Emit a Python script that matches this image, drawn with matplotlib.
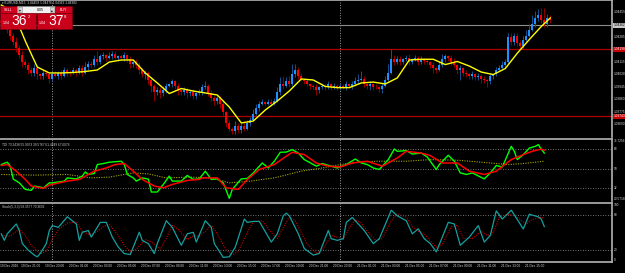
import numpy as np
import pandas as pd
import matplotlib
matplotlib.use('Agg')
import matplotlib.pyplot as plt
from matplotlib.patches import Rectangle

plt.rcParams['font.family'] = ['Liberation Sans', 'DejaVu Sans']

W, H = 625, 273

# EURUSD M15 candles, closes in pips above 1.0360
base = 1.0360
first_open = 80
closes = [78, 76, 73, 69, 65, 61, 56, 51, 49, 46,
          44, 47, 43, 42, 44, 43, 40, 43, 42, 44,
          42, 46, 44, 44, 46, 44, 47, 44, 48, 50,
          49, 53, 51, 55, 56, 54, 55, 57, 54, 55,
          54, 56, 53, 50, 51, 49, 46, 43, 44, 39,
          35, 31, 32, 30, 32, 35, 36, 38, 35, 32,
          31, 32, 30, 31, 28, 30, 31, 34, 35, 30,
          27, 25, 27, 23, 17, 10, 6, 4, 8, 5,
          8, 6, 10, 12, 16, 20, 23, 24, 23, 24,
          23, 25, 31, 36, 35, 38, 36, 43, 46, 42,
          39, 38, 36, 35, 34, 32, 34, 35, 34, 36,
          34, 35, 34, 35, 34, 36, 35, 36, 38, 39,
          40, 36, 35, 36, 34, 34, 33, 35, 39, 44,
          53, 51, 53, 51, 53, 54, 51, 53, 54, 51,
          53, 52, 51, 49, 47, 46, 49, 53, 55, 54,
          51, 49, 46, 47, 44, 43, 42, 43, 41, 42,
          40, 39, 38, 42, 43, 46, 47, 49, 51, 68,
          65, 69, 64, 62, 66, 69, 73, 77, 81, 83,
          80, 77, 81, 80]
up_wick = [2, 2, 3, 2, 2, 3, 2, 3, 2, 2,
           2, 3, 2, 1, 2, 2, 1, 2, 2, 1,
           2, 2, 1, 2, 2, 1, 2, 2, 3, 2,
           2, 3, 6, 2, 2, 1, 3, 2, 2, 1,
           2, 2, 1, 2, 1, 2, 2, 1, 2, 1,
           2, 1, 2, 2, 3, 2, 1, 2, 1, 2,
           1, 2, 2, 1, 2, 1, 2, 2, 3, 1,
           2, 1, 2, 1, 2, 1, 2, 1, 3, 2,
           2, 3, 2, 2, 3, 3, 2, 2, 1, 2,
           2, 2, 3, 5, 6, 3, 4, 7, 4, 2,
           2, 1, 2, 1, 1, 2, 1, 2, 1, 2,
           1, 2, 1, 2, 1, 2, 1, 2, 3, 4,
           5, 2, 1, 2, 1, 2, 1, 2, 3, 6,
           7, 3, 2, 2, 1, 2, 3, 1, 2, 1,
           2, 1, 2, 1, 2, 1, 3, 4, 2, 1,
           2, 3, 1, 2, 1, 2, 1, 2, 1, 2,
           1, 2, 1, 2, 1, 2, 2, 3, 2, 3,
           3, 2, 2, 2, 3, 4, 4, 6, 5, 4,
           5, 8, 3, 2]
dn_wick = [2, 1, 2, 3, 2, 3, 2, 3, 2, 3,
           2, 2, 3, 2, 2, 1, 3, 2, 1, 2,
           2, 1, 2, 2, 1, 2, 1, 2, 1, 2,
           2, 1, 2, 1, 2, 2, 1, 2, 1, 2,
           1, 2, 2, 3, 2, 2, 3, 2, 3, 3,
           4, 6, 2, 3, 2, 2, 1, 2, 2, 3,
           2, 2, 3, 2, 2, 2, 1, 2, 1, 2,
           2, 3, 2, 3, 2, 3, 2, 2, 2, 2,
           2, 2, 1, 2, 1, 1, 2, 1, 2, 1,
           2, 1, 1, 2, 2, 1, 2, 1, 2, 2,
           1, 2, 1, 2, 2, 3, 2, 1, 2, 1,
           2, 1, 2, 2, 1, 2, 1, 2, 1, 2,
           1, 2, 2, 3, 2, 1, 2, 3, 1, 1,
           1, 2, 1, 2, 1, 1, 2, 1, 1, 2,
           1, 2, 1, 2, 3, 2, 1, 1, 2, 2,
           2, 1, 3, 7, 2, 2, 2, 2, 2, 2,
           3, 2, 4, 2, 2, 1, 1, 1, 1, 1,
           2, 2, 2, 2, 1, 1, 1, 1, 2, 2,
           2, 2, 2, 2]

# moving average (yellow), read every 4 bars
ma_idx = list(range(0, 184, 4)) + [183]
ma_pips = [90.0, 85.2, 65.5, 47.8, 43.8, 43.8, 44.1, 44.8, 45.8, 51.2,
           52.6, 52.6, 43.8, 37.0, 29.8, 33.2, 31.5, 30.2, 28.8, 20.6,
           9.8, 11.1, 18.6, 24.7, 31.5, 39.7, 39.0, 34.6, 33.8, 33.8,
           37.0, 37.6, 36.3, 40.4, 52.6, 53.1, 53.1, 49.5, 51.6, 48.5,
           44.4, 42.7, 46.8, 57.2, 66.5, 75.4, 81.2]

# TDI
tdi_g_idx = [0, 2, 3, 4, 6, 8, 10, 11, 13, 14, 16, 17, 21, 22, 25, 27, 28, 29, 31, 32,
             34, 36, 40, 41, 42, 44, 45, 47, 49, 50, 52, 54, 56, 57, 60, 62, 64, 66, 68, 70,
             72, 74, 76, 77, 80, 82, 84, 87, 89, 91, 93, 95, 97, 99, 101, 105, 107, 110, 112, 115,
             118, 120, 122, 124, 126, 129, 131, 132, 135, 137, 140, 142, 145, 146, 149, 151, 153, 155, 157, 161,
             163, 165, 167, 170, 171, 172, 174, 176, 178, 179, 180, 181]
tdi_green = [53.6, 55.7, 52.1, 40.4, 37.0, 31.1, 30.2, 34.1, 33.2, 32.3, 37.0, 37.0, 38.6, 41.5, 40.6, 43.1, 46.9, 44.6, 45.5, 53.6,
             54.5, 55.7, 56.6, 53.6, 44.6, 41.5, 38.6, 41.5, 40.4, 28.7, 28.7, 35.6, 43.1, 38.6, 38.6, 43.7, 40.1, 40.6, 47.6, 40.1,
             40.6, 37.0, 23.0, 31.1, 40.6, 41.0, 46.0, 55.0, 50.5, 56.6, 64.7, 64.9, 67.1, 64.0, 58.1, 52.1, 54.5, 52.1, 50.5, 53.6,
             58.6, 55.0, 53.6, 50.5, 49.1, 58.1, 67.6, 65.6, 66.2, 63.1, 64.0, 60.4, 49.1, 53.6, 62.0, 56.6, 46.0, 44.6, 46.0, 40.6,
             46.0, 52.7, 51.4, 70.1, 65.6, 58.1, 62.6, 68.5, 70.1, 71.6, 67.6, 64.0]
tdi_r_idx = [0, 2, 5, 8, 10, 14, 16, 22, 26, 31, 35, 38, 41, 44, 47, 51, 54, 57, 62, 66,
             67, 72, 75, 79, 82, 86, 91, 95, 97, 101, 105, 109, 113, 117, 122, 127, 132, 135, 140, 143,
             147, 152, 156, 161, 165, 170, 174, 177, 180, 181]
tdi_red = [52.7, 53.6, 47.6, 40.1, 34.1, 32.0, 35.0, 38.6, 40.1, 47.6, 50.5, 53.6, 54.5, 47.6, 40.1, 34.1, 32.5, 35.6, 39.2, 40.1,
           41.5, 41.5, 32.5, 31.1, 40.1, 49.1, 53.6, 61.1, 64.7, 62.6, 55.0, 52.1, 51.4, 55.0, 56.6, 52.1, 59.5, 65.6, 64.0, 61.7,
           55.0, 55.0, 47.6, 44.6, 47.6, 58.1, 62.6, 65.6, 67.6, 66.5]
tdi_y_idx = [0, 11, 22, 30, 36, 44, 49, 55, 63, 70, 76, 83, 91, 100, 107, 113, 119, 125, 135, 143,
             152, 160, 169, 174, 181]
tdi_base = [44.6, 44.0, 44.6, 41.5, 42.2, 46.0, 45.1, 41.5, 42.2, 41.5, 37.0, 38.6, 41.5, 47.6, 50.5, 53.6, 55.7, 56.6, 56.6, 58.1,
            57.5, 55.7, 53.6, 54.5, 56.6]
tdi_levels = [68, 50, 32]

# Stochastic
st_idx = [0, 1, 2, 5, 6, 7, 9, 11, 12, 13, 15, 16, 17, 19, 20, 22, 25, 26, 27, 29,
          30, 33, 35, 37, 39, 41, 43, 46, 47, 49, 51, 52, 55, 57, 60, 62, 64, 65, 68, 70,
          71, 74, 76, 78, 81, 82, 84, 86, 90, 92, 94, 95, 96, 99, 101, 104, 106, 109, 110, 112,
          114, 115, 117, 119, 121, 124, 126, 130, 132, 135, 137, 139, 141, 143, 145, 149, 151, 153, 156, 159,
          161, 163, 165, 167, 170, 174, 176, 179, 180, 181]
st_main = [47.8, 36.7, 47.8, 64.5, 53.3, 31.2, 20.0, 11.7, 8.8, 14.5, 31.2, 53.3, 61.7, 58.8, 64.5, 76.7, 64.5, 36.7, 50.5, 53.3,
           42.2, 67.2, 67.2, 42.2, 25.3, 14.3, 12.7, 50.5, 36.5, 31.2, 14.3, 31.2, 70.0, 58.8, 28.3, 47.8, 50.3, 33.8, 70.0, 58.8,
           31.2, 7.8, 8.8, 25.3, 72.8, 67.2, 68.8, 68.8, 33.8, 47.8, 78.3, 82.8, 78.3, 47.8, 22.8, 11.7, 14.5, 53.3, 39.5, 36.7,
           39.5, 67.2, 75.5, 64.5, 53.3, 31.2, 39.5, 87.8, 78.3, 70.0, 47.8, 56.2, 39.5, 31.2, 17.2, 67.2, 64.5, 28.3, 42.2, 61.7,
           33.8, 45.0, 86.7, 72.8, 87.8, 56.0, 81.0, 76.5, 72.8, 60.0]
sig_idx = [0, 3, 6, 8, 10, 13, 15, 17, 19, 22, 25, 27, 29, 31, 34, 36, 39, 41, 43, 45,
           48, 50, 53, 55, 57, 59, 62, 64, 66, 68, 70, 72, 75, 77, 79, 82, 84, 87, 90, 92,
           94, 96, 98, 100, 102, 105, 107, 110, 112, 114, 116, 118, 120, 122, 125, 127, 130, 132, 135, 137,
           139, 141, 143, 145, 147, 150, 152, 154, 157, 160, 162, 164, 166, 168, 170, 172, 175, 177, 180, 181]
st_signal = [45, 44, 56, 45, 28, 14, 18, 38, 55, 66, 68, 52, 47, 48, 60, 64, 45, 28, 18, 22,
             38, 34, 22, 40, 62, 55, 38, 44, 44, 52, 62, 48, 20, 12, 18, 50, 68, 70, 50, 40,
             58, 76, 70, 50, 30, 15, 20, 45, 42, 38, 58, 72, 66, 52, 36, 40, 70, 82, 76, 60,
             52, 48, 36, 25, 30, 60, 62, 40, 40, 52, 45, 50, 76, 80, 80, 76, 64, 72, 76, 74]
st_levels = [80, 20]

price_ticks = [1.04455, 1.04285, 1.04115, 1.04030, 1.03945, 1.03860, 1.03775, 1.03690]
bid, ask = 1.04362, 1.04378
hlines = [1.04198, 1.03743]

times = pd.date_range('2016-12-19 19:45', periods=len(closes), freq='15min')
time_labels = ['19 Dec 21:00', '19 Dec 23:00', '20 Dec 01:00', '20 Dec 03:00', '20 Dec 05:00',
               '20 Dec 07:00', '20 Dec 09:00', '20 Dec 11:00', '20 Dec 13:00', '20 Dec 15:00',
               '20 Dec 17:00', '20 Dec 19:00', '20 Dec 21:00', '20 Dec 23:00', '21 Dec 01:00',
               '21 Dec 03:00', '21 Dec 05:00', '21 Dec 07:00', '21 Dec 09:00', '21 Dec 11:00',
               '21 Dec 13:00', '21 Dec 15:00']

FS = 2.3          # scale labels are tiny in this screenshot
LBL = '#d8d8d8'


def pr(p):
    return base + np.asarray(p, dtype=float) / 10000


def fx(x):
    return x / W


def fy(y):
    return 1 - y / H


def box(top, bottom):
    return [0, 1 - bottom / H, 612 / W, (bottom - top) / H]


fig = plt.figure(figsize=(W / 100, H / 100), dpi=100, facecolor='black')
ax_p = fig.add_axes(box(0, 137))
ax_t = fig.add_axes(box(139, 201))
ax_s = fig.add_axes(box(203, 262))

day_start = [i for i, t in enumerate(times) if t.hour == 0 and t.minute == 0]
for ax in (ax_p, ax_t, ax_s):
    ax.set_facecolor('black')
    ax.set_xlim(-0.43, 203.57)
    ax.set_xticks([])
    ax.set_yticks([])
    for sp in ax.spines.values():
        sp.set_color('#b4b4b4')
        sp.set_linewidth(1.2)
    ax.spines['left'].set_visible(False)
    ax.spines['bottom'].set_visible(False)
    for d in day_start:
        ax.axvline(d, color='#a0a0a0', lw=0.7, ls=(0, (1, 1.6)), zorder=1)
ax_s.spines['bottom'].set_visible(True)

# ---- price panel
idx = np.arange(len(closes))
c = np.array(closes, dtype=float)
o = np.r_[first_open, c[:-1]]
hi = np.maximum(o, c) + np.array(up_wick)
lo = np.minimum(o, c) - np.array(dn_wick)
bull = c > o
body_col = np.where(bull, '#1e90ff', '#ff0000')
wick_col = np.where(bull, '#1b4f8a', '#8c0000')
ax_p.vlines(idx, pr(lo), pr(hi), colors=wick_col, lw=0.7, zorder=2)
body_lo = np.minimum(o, c)
body_h = np.maximum(np.abs(c - o), 0.5)
ax_p.bar(idx, body_h / 10000, bottom=pr(body_lo), width=0.7, color=body_col, linewidth=0, zorder=3)
ax_p.plot(ma_idx, pr(ma_pips), color='#ffff00', lw=1.0, zorder=4)
ax_p.set_ylim(1.036024, 1.04534)
ax_p.axhline(bid, color='#8c8c8c', lw=0.8, zorder=1)
for h in hlines:
    ax_p.axhline(h, color='#b00000', lw=0.9, zorder=1)

ytr = ax_p.get_yaxis_transform()
for p in price_ticks:
    ax_p.text(1.003, p, f'{p:.5f}', transform=ytr, fontsize=FS, color=LBL,
              va='center', ha='left', clip_on=False)
ax_p.text(1.003, bid, f'{bid:.5f}', transform=ytr, fontsize=FS, color='black', va='center', ha='left',
          bbox=dict(boxstyle='square,pad=0.15', fc='#c8c8c8', ec='none'))
for h in hlines:
    ax_p.text(1.003, h, f'{h:.5f}', transform=ytr, fontsize=FS, color='white', va='center', ha='left',
              bbox=dict(boxstyle='square,pad=0.15', fc='#c80000', ec='none'))

# ---- TDI panel
ax_t.set_ylim(20.5718, 76.7256)
for lv in tdi_levels:
    ax_t.axhline(lv, color='#9a9a9a', lw=0.6, ls=(0, (1, 2)), zorder=1)
ax_t.plot(tdi_y_idx, tdi_base, color='#a8a800', lw=0.8, ls=(0, (1, 1.2)), zorder=2)
ax_t.plot(tdi_g_idx, tdi_green, color='#00ff00', lw=1.0, zorder=3)
ax_t.plot(tdi_r_idx, tdi_red, color='#ff0000', lw=1.1, zorder=4)
ttr = ax_t.get_yaxis_transform()
for lv in tdi_levels:
    ax_t.text(1.003, lv, str(lv), transform=ttr, fontsize=FS, color=LBL, va='center', ha='left')
ax_t.text(1.003, 76.7256, '76.7256', transform=ttr, fontsize=FS, color=LBL, va='top', ha='left')
ax_t.text(1.003, 20.5718, '20.5718', transform=ttr, fontsize=FS, color=LBL, va='bottom', ha='left')
ax_t.text(0.004, 0.93, 'TDI 73.2438 55.9073 39.5767 61.4849 67.6078', transform=ax_t.transAxes,
          fontsize=FS, color='#c8c8c8', va='top', ha='left')

# ---- Stochastic panel
ax_s.set_ylim(0, 100)
for lv in st_levels:
    ax_s.axhline(lv, color='#9a9a9a', lw=0.6, ls=(0, (1, 2)), zorder=1)
ax_s.plot(sig_idx, st_signal, color='#c80000', lw=0.8, ls=(0, (1, 1.2)), zorder=2)
ax_s.plot(st_idx, st_main, color='#15a0a0', lw=0.9, zorder=3)
s_tr = ax_s.get_yaxis_transform()
for lv in [100, 80, 20, 0]:
    ax_s.text(1.003, lv, str(lv), transform=s_tr, fontsize=FS, color=LBL,
              va='top' if lv == 100 else ('bottom' if lv == 0 else 'center'), ha='left')
ax_s.text(0.004, 0.97, 'Stoch(5,3,3) 59.3577 70.3692', transform=ax_s.transAxes,
          fontsize=FS, color='#c8c8c8', va='top', ha='left')

# ---- time axis
fig.text(fx(0.5), fy(266), '19 Dec 2016', fontsize=FS, color=LBL, va='center', ha='left')
stamps = list(times.strftime('%d %b %H:%M'))
for lab in time_labels:
    i = stamps.index(lab)
    fig.text(fx(1.3 + 3 * i + 4.5), fy(266), lab, fontsize=FS, color=LBL, va='center', ha='left')

# ---- chart title and one-click trading panel
fig.text(fx(2), fy(3.0), '\u25be EURUSD,M15  1.04459 1.04476 1.04362 1.04382', fontsize=FS,
         color=LBL, va='center', ha='left')


def rect(x0, y0, x1, y1, fc, ec='none'):
    fig.add_artist(Rectangle((fx(x0), fy(y1)), (x1 - x0) / W, (y1 - y0) / H, transform=fig.transFigure,
                             facecolor=fc, edgecolor=ec, lw=0.4))


rect(0, 6.5, 17, 13, '#d0001c', '#7a0010')
rect(17, 6.5, 55, 13, '#f2f2f2', '#909090')
rect(55, 6.5, 72, 13, '#d0001c', '#7a0010')
rect(18, 7.3, 22, 12.2, '#d8d8d8', '#909090')
rect(50, 7.3, 54, 12.2, '#d8d8d8', '#909090')
rect(0, 13.5, 36, 28.5, '#c8001a', '#7a0010')
rect(36.5, 13.5, 72, 28.5, '#c8001a', '#7a0010')
fig.text(fx(8.5), fy(9.8), 'SELL', fontsize=2.6, color='white', ha='center', va='center')
fig.text(fx(63.5), fy(9.8), 'BUY', fontsize=2.6, color='white', ha='center', va='center')
fig.text(fx(20), fy(9.8), '\u25be', fontsize=2.6, color='black', ha='center', va='center')
fig.text(fx(52), fy(9.8), '\u25b4', fontsize=2.6, color='black', ha='center', va='center')
fig.text(fx(40), fy(9.8), '0.05', fontsize=2.6, color='black', ha='center', va='center')
for x0, s in [(0, bid), (36.5, ask)]:
    txt = f'{s:.5f}'
    fig.text(fx(x0 + 2.5), fy(23.5), txt[:4], fontsize=2.6, color='white', ha='left', va='center')
    fig.text(fx(x0 + 11.5), fy(21.5), txt[4:6], fontsize=10, color='white', ha='left', va='center')
    fig.text(fx(x0 + 27.5), fy(16.5), txt[6], fontsize=3.2, color='white', ha='left', va='center')

fig.savefig('out.png', dpi=100, facecolor='black')
